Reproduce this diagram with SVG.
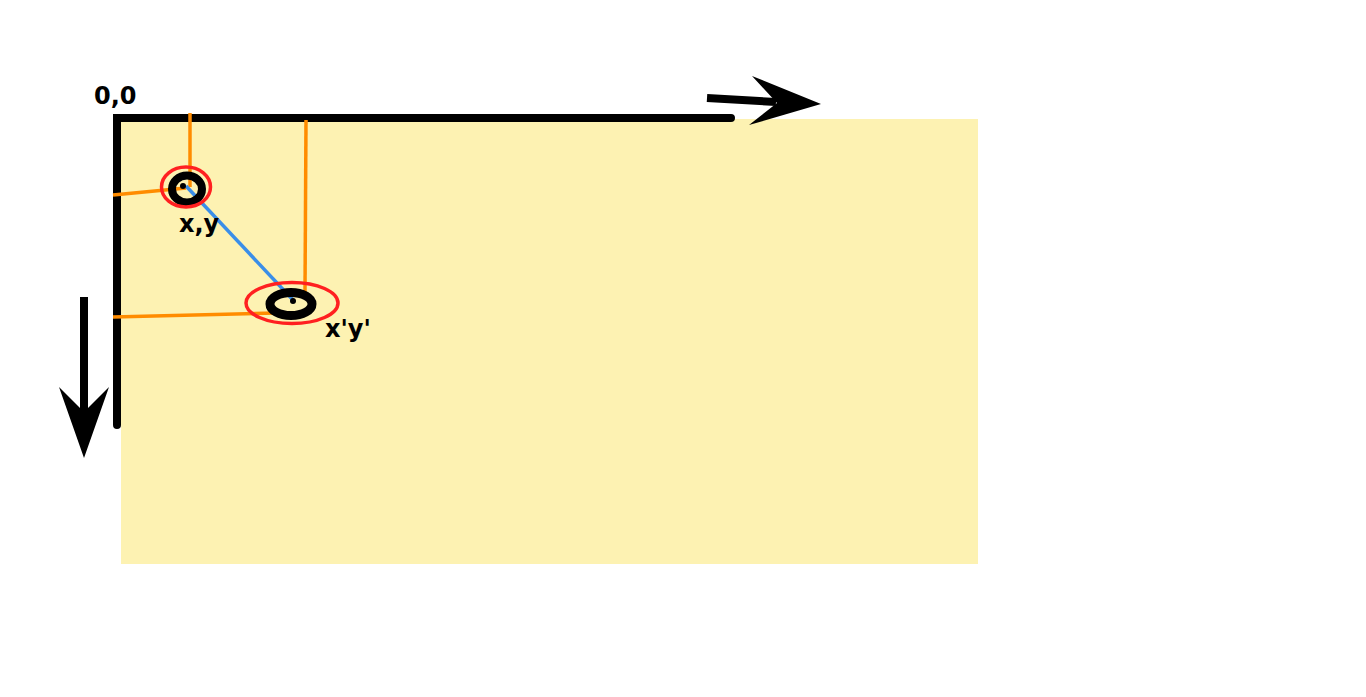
<svg xmlns="http://www.w3.org/2000/svg" width="1366" height="697" viewBox="0 0 1366 697">
<style>
.lbl{font-family:"DejaVu Sans","Liberation Sans",sans-serif;font-weight:bold;font-size:24px;fill:#000}
.or{stroke:#ff8c00;stroke-width:3.5;fill:none}
.red{stroke:#ff2020;stroke-width:3.5;fill:none}
.ring{stroke:#000;fill:none}
</style>
<rect width="1366" height="697" fill="#fff"/>
<rect id="canvas" x="121" y="119" width="857" height="445" fill="#fdf2b2"/>
<g id="axes">
<polyline points="117,425 117,118 731,118" fill="none" stroke="#000" stroke-width="8" stroke-linejoin="miter" stroke-linecap="round"/>
<line x1="707" y1="98" x2="776" y2="102" stroke="#000" stroke-width="8"/>
<polygon points="752,76 821,104 749,125 777,103" fill="#000"/>
<line x1="84" y1="297" x2="84" y2="414" stroke="#000" stroke-width="8"/>
<polygon points="59,387 84,458 109,387 84,412" fill="#000"/>
</g>
<g id="connectors">
<line class="or" x1="190" y1="113" x2="190" y2="187"/>
<line class="or" x1="306" y1="120" x2="305" y2="292"/>
<line class="or" x1="113" y1="195" x2="186" y2="188"/>
<line class="or" x1="113" y1="317" x2="276" y2="313"/>
<line x1="186" y1="186" x2="293" y2="300" stroke="#3a8ee8" stroke-width="3.5"/>
</g>
<g id="point1">
<ellipse class="ring" cx="187" cy="189" rx="15" ry="13.5" stroke-width="8"/>
<circle cx="183" cy="186" r="3" fill="#000"/>
<ellipse class="red" cx="186" cy="187" rx="24.5" ry="20"/>
</g>
<g id="point2">
<ellipse class="ring" cx="291" cy="304" rx="21" ry="11.5" stroke-width="9"/>
<circle cx="293" cy="301" r="3" fill="#000"/>
<ellipse class="red" cx="292" cy="303" rx="46" ry="20.5"/>
</g>
<g id="labels">
<text class="lbl" x="94" y="104">0,0</text>
<text class="lbl" x="179" y="232">x,y</text>
<text class="lbl" x="325" y="337">x'y'</text>
</g>
</svg>
